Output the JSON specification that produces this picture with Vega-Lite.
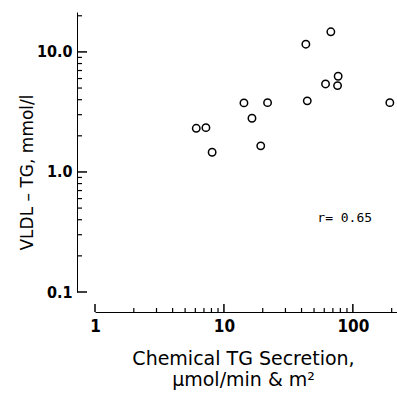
{
  "$schema": "https://vega.github.io/schema/vega-lite/v6.json",
  "autosize": "none",
  "width": 302,
  "height": 280,
  "padding": {"left": 95, "top": 12, "right": 0, "bottom": 102},
  "background": "white",
  "config": {"view": {"stroke": null}},
  "datasets": {
    "xMajor": [{"value": 1}, {"value": 10}, {"value": 100}],
    "xMinor": [{"value": 2}, {"value": 3}, {"value": 4}, {"value": 5}, {"value": 6}, {"value": 7}, {"value": 8}, {"value": 9}, {"value": 20}, {"value": 30}, {"value": 40}, {"value": 50}, {"value": 60}, {"value": 70}, {"value": 80}, {"value": 90}, {"value": 200}],
    "yMajor": [{"value": 0.1}, {"value": 1}, {"value": 10}],
    "yMinor": [{"value": 0.2}, {"value": 0.3}, {"value": 0.4}, {"value": 0.5}, {"value": 0.6}, {"value": 0.7}, {"value": 0.8}, {"value": 0.9}, {"value": 2}, {"value": 3}, {"value": 4}, {"value": 5}, {"value": 6}, {"value": 7}, {"value": 8}, {"value": 9}, {"value": 20}]
  },
  "resolve": {"axis": {"x": "independent", "y": "independent"}},
  "layer": [
    {
      "data": {"values": [
        {"secretion": 6.1, "vldl": 2.31},
        {"secretion": 7.25, "vldl": 2.34},
        {"secretion": 8.1, "vldl": 1.46},
        {"secretion": 14.3, "vldl": 3.76},
        {"secretion": 16.5, "vldl": 2.8},
        {"secretion": 19.3, "vldl": 1.65},
        {"secretion": 21.8, "vldl": 3.78},
        {"secretion": 43.2, "vldl": 11.6},
        {"secretion": 44.3, "vldl": 3.91},
        {"secretion": 61.4, "vldl": 5.41},
        {"secretion": 67.5, "vldl": 14.7},
        {"secretion": 76.9, "vldl": 6.27},
        {"secretion": 76.1, "vldl": 5.24},
        {"secretion": 193.6, "vldl": 3.78}
      ]},
      "mark": {"type": "point", "shape": "circle", "filled": false, "stroke": "black", "strokeWidth": 1.5, "size": 55, "opacity": 1},
      "encoding": {
        "x": {
          "field": "secretion", "type": "quantitative",
          "scale": {"type": "log", "domain": [1, 220], "nice": false},
          "axis": {
            "orient": "top",
            "offset": -300,
            "values": [1, 10, 100],
            "labelExpr": "datum.value == 1 ? '1' : datum.value == 10 ? '10' : '100'",
            "labelOverlap": false,
            "labelBound": false,
            "labelFlush": false,
            "labelBaseline": "top",
            "labelPadding": -6,
            "grid": false,
            "domain": true,
            "domainColor": "black",
            "domainWidth": 1,
            "ticks": false,
            "labelFont": "Liberation Sans Narrow, DejaVu Sans Condensed, sans-serif",
            "labelFontWeight": "bold",
            "labelFontSize": 17,
            "labelColor": "black",
            "title": ["Chemical TG Secretion,", "μmol/min & m²"],
            "titleFont": "DejaVu Sans",
            "titleFontWeight": "normal",
            "titleFontSize": 19,
            "titleColor": "black",
            "titleLineHeight": 21,
            "titleBaseline": "alphabetic",
            "titleAlign": "center",
            "titleY": 52,
            "titleX": 148
          }
        },
        "y": {
          "field": "vldl", "type": "quantitative",
          "scale": {"type": "log", "domain": [0.1, 21.5], "nice": false},
          "axis": {
            "orient": "right",
            "offset": -320,
            "values": [0.1, 1, 10],
            "labelExpr": "datum.value == 0.1 ? '0.1' : datum.value == 1 ? '1.0' : '10.0'",
            "labelOverlap": false,
            "labelBound": false,
            "labelFlush": false,
            "labelAlign": "right",
            "labelBaseline": "middle",
            "labelPadding": -5,
            "grid": false,
            "domain": true,
            "domainColor": "black",
            "domainWidth": 1,
            "ticks": false,
            "labelFont": "Liberation Sans Narrow, DejaVu Sans Condensed, sans-serif",
            "labelFontWeight": "bold",
            "labelFontSize": 16,
            "labelColor": "black",
            "title": "VLDL – TG, mmol/l",
            "titleFont": "DejaVu Sans",
            "titleFontWeight": "normal",
            "titleFontSize": 17,
            "titleColor": "black",
            "titleAngle": 270,
            "titleAlign": "center",
            "titleBaseline": "middle",
            "titleX": -50,
            "titleY": 160
          }
        }
      }
    },
    {
      "data": {"values": [{"secretion": 53, "vldl": 0.414, "label": "r= 0.65"}]},
      "mark": {"type": "text", "align": "left", "baseline": "middle", "font": "DejaVu Sans Mono", "fontSize": 13, "color": "black"},
      "encoding": {
        "x": {"field": "secretion", "type": "quantitative", "axis": null},
        "y": {"field": "vldl", "type": "quantitative", "axis": null},
        "text": {"field": "label"}
      }
    },
    {
      "data": {"name": "xMajor"},
      "mark": {"type": "rule", "color": "black", "strokeWidth": 1.5, "opacity": 1, "yOffset": 12, "y2Offset": 20},
      "encoding": {
        "x": {"field": "value", "type": "quantitative", "axis": null},
        "y": {"datum": 0.1, "type": "quantitative", "axis": null},
        "y2": {"datum": 0.1}
      }
    },
    {
      "data": {"name": "xMinor"},
      "mark": {"type": "rule", "color": "black", "strokeWidth": 1.2, "opacity": 1, "yOffset": 16, "y2Offset": 20},
      "encoding": {
        "x": {"field": "value", "type": "quantitative", "axis": null},
        "y": {"datum": 0.1, "type": "quantitative", "axis": null},
        "y2": {"datum": 0.1}
      }
    },
    {
      "data": {"name": "yMajor"},
      "mark": {"type": "rule", "color": "black", "strokeWidth": 1.5, "opacity": 1, "xOffset": -18, "x2Offset": -8},
      "encoding": {
        "y": {"field": "value", "type": "quantitative", "axis": null},
        "x": {"datum": 1, "type": "quantitative", "axis": null},
        "x2": {"datum": 1}
      }
    },
    {
      "data": {"name": "yMinor"},
      "mark": {"type": "rule", "color": "black", "strokeWidth": 1.2, "opacity": 1, "xOffset": -18, "x2Offset": -13},
      "encoding": {
        "y": {"field": "value", "type": "quantitative", "axis": null},
        "x": {"datum": 1, "type": "quantitative", "axis": null},
        "x2": {"datum": 1}
      }
    }
  ]
}
